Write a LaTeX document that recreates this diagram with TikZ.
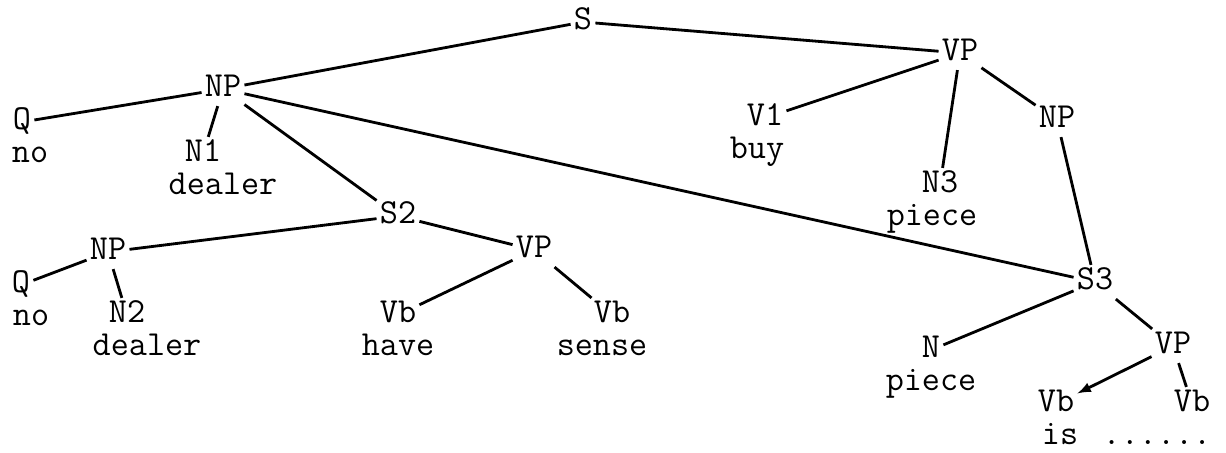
\documentclass[tikz,border=0pt]{standalone}
\usepackage{fontspec}
\usepackage{tikz}
\usetikzlibrary{positioning}
\usetikzlibrary{arrows}

\begin{document}
\begin{tikzpicture} [
       x=0.2mm, y=-0.2mm,
       cat/.style={font=\ttfamily\fontsize{20}{24}\selectfont,
               text height=4.3mm, text depth=1.2mm, inner sep=0.6mm},
       word/.style={cat, inner sep=0pt},
       line/.style={draw, line width=1.6pt},
       node distance=0.3mm,
       ]
       \useasboundingbox (0,0) rectangle (1226,452);
       % top level
       \node (s) [cat] at (583,22) {S};
       \node (np) [cat] at (223,89) {NP};
       \node (vp) [cat] at (960,53) {VP};
       \node (q) [cat] at (22,122) {Q};
       \node (no1) [word, below=of q, xshift=1.6mm] {no};
       \node (n1) [cat] at (203,154) {N1};
       \node (dealer1) [word, below=of n1, xshift=4mm] {dealer};
       \node (vl) [cat] at (765,118) {V1};
       \node (buy) [word, below=of vl, xshift=-1.6mm] {buy};
       \node (n3) [cat] at (940,185) {N3};
       \node (piece1) [word, below=of n3, xshift=-1.6mm] {piece};
       \node (npr) [cat] at (1057,120) {NP};
       % relative clause S2
       \node (s2) [cat] at (398,216) {S2};
       \node (np2) [cat] at (108,252) {NP};
       \node (q2) [cat] at (21,285) {Q};
       \node (no2) [word, below=of q2, xshift=2mm] {no};
       \node (n2) [cat] at (127,315) {N2};
       \node (dealer2) [word, below=of n2, xshift=4mm] {dealer};
       \node (vp2) [cat] at (534,250) {VP};
       \node (vbhave) [cat] at (398,315) {Vb};
       \node (have) [word, below=of vbhave] {have};
       \node (vbsense) [cat] at (612,315) {Vb};
       \node (sense) [word, below=of vbsense, xshift=-2mm] {sense};
       % relative clause S3
       \node (s3) [cat] at (1095,282) {S3};
       \node (n) [cat] at (931,350) {N};
       \node (piece2) [word, below=of n] {piece};
       \node (vp3) [cat] at (1173,346) {VP};
       \node (vbis) [cat] at (1056,404) {Vb};
       \node (is) [word, below=of vbis, xshift=0.8mm] {is};
       \node (vbdots) [cat] at (1192,404) {Vb};
       \node (dots) [word, below=of vbdots, xshift=-7mm] {......};
        \begin{scope}[every path/.style=line]
        \path (s) -- (np);
        \path (s) -- (vp);
        \path (np) -- (q);
        \path (np) -- (n1);
        \path (np) -- (s2);
        \path (np) -- (s3);
        \path (vp) -- (vl);
        \path (vp) -- (n3);
        \path (vp) -- (npr);
        \path (npr) -- (s3);
        \path (s2) -- (np2);
        \path (s2) -- (vp2);
        \path (np2) -- (q2);
        \path (np2) -- (n2);
        \path (vp2) -- (vbhave);
        \path (vp2) -- (vbsense);
        \path (s3) -- (n);
        \path (s3) -- (vp3);
        \path [-latex] (vp3) -- (vbis);
        \path (vp3) -- (vbdots);
\end{scope}
\end{tikzpicture}
\end{document}
